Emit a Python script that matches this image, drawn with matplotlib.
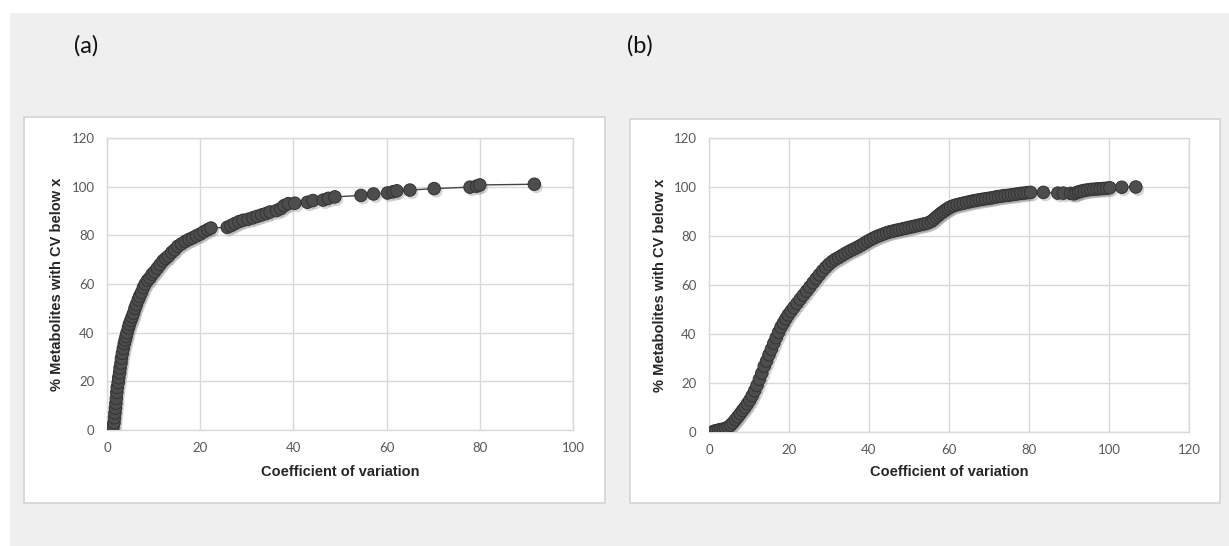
import matplotlib
matplotlib.use("Agg")
import matplotlib.pyplot as plt
import matplotlib.patheffects as pe
from matplotlib.patches import Rectangle

# panel (a): coefficient of variation vs cumulative % of metabolites
cv_a = [1.2, 1.3, 1.5, 1.6, 1.7, 1.8, 1.9, 2.0, 2.1, 2.2, 2.4, 2.5, 2.7, 2.8,
        3.0, 3.1, 3.3, 3.5, 3.7, 3.9, 4.1, 4.3, 4.6, 4.8, 5.1, 5.4, 5.7, 6.0,
        6.3, 6.7, 7.0, 7.4, 7.8, 8.2, 8.7, 9.2, 9.7, 10.2, 10.8, 11.4, 12.0,
        12.6, 13.2, 13.9, 14.5, 15.2, 16.0, 16.8, 17.6, 18.4, 19.2, 20.0, 20.8,
        21.6, 22.3, 25.8, 26.6, 27.4, 28.3, 29.2, 30.3, 31.3, 32.2, 33.2, 34.2,
        35.0, 36.4, 37.3, 38.0, 38.9, 40.3, 43.0, 44.2, 46.4, 47.5, 48.9, 54.5,
        57.2, 60.2, 61.4, 62.2, 65.0, 70.2, 77.9, 79.3, 80.0, 91.7]
pct_a = [0, 1.5, 3, 5, 7, 9, 11, 13, 15.5, 17.5, 19.5, 21.5, 23.5, 25.5,
         27.5, 29.5, 31.5, 33.5, 35.5, 37, 38.5, 40, 42, 43.5, 45, 46.5, 48, 50,
         51.5, 53.5, 55, 56.5, 58.5, 60, 61.5, 62.5, 64, 65, 66.5, 68, 69.5,
         70.5, 71.5, 73, 74, 75.5, 76.5, 77.5, 78.3, 79, 79.8, 80.5, 81.5,
         82.3, 83, 83.3, 84, 84.8, 85.6, 86.2, 86.6, 87.2, 87.8, 88.4, 89.0,
         89.6, 90.2, 91.0, 92.2, 93.0, 93.2, 93.6, 94.3, 94.5, 95.2, 95.8, 96.4,
         97.0, 97.4, 97.9, 98.3, 98.6, 99.2, 99.8, 100.2, 100.7, 101.0]

# panel (b)
cv_b = [1.2, 1.8, 2.4, 3.0, 3.6, 4.2, 4.8, 5.4, 6.0, 6.6, 7.2, 7.8, 8.4, 9.0,
        9.6, 10.2, 10.8, 11.4, 12.0, 12.6, 13.2, 13.8, 14.4, 15.0, 15.6, 16.2,
        16.8, 17.4, 18.0, 18.6, 19.2, 19.8, 20.5, 21.2, 22.0, 22.8, 23.6, 24.4,
        25.2, 26.0, 26.8, 27.6, 28.4, 29.2, 30.0, 30.8, 31.6, 32.4, 33.2, 34.0,
        34.8, 35.6, 36.4, 37.2, 38.0, 38.8, 39.6, 40.4, 41.2, 42.0, 42.8, 43.6,
        44.4, 45.2, 46.0, 46.8, 47.6, 48.4, 49.2, 50.0, 50.8, 51.6, 52.4, 53.2,
        54.0, 54.8, 55.6, 56.2, 56.8, 57.4, 58.0, 58.6, 59.2, 59.8, 60.4, 61.2,
        62.0, 62.8, 63.6, 64.4, 65.2, 66.0, 66.8, 67.6, 68.4, 69.2, 70.0, 70.8,
        71.6, 72.4, 73.2, 74.0, 74.8, 75.6, 76.4, 77.2, 78.0, 78.8, 79.6, 80.4,
        83.6, 87.2, 88.6, 90.4, 91.2, 91.8, 92.4, 93.0, 93.8, 94.6, 95.4, 96.2,
        97.0, 97.8, 98.6, 99.4, 100.2, 103.2, 106.7]
pct_b = [0.3, 0.5, 0.8, 1.0, 1.2, 1.5, 2.0, 2.8, 3.8, 5.0, 6.2, 7.5, 8.8, 10.0,
         11.5, 13.0, 14.8, 16.8, 19.0, 21.5, 24.0, 26.8, 29.0, 31.5, 33.8, 36.2,
         38.5, 40.7, 42.8, 44.5, 46.2, 47.8, 49.3, 50.8, 52.5, 54.2, 55.9, 57.5,
         59.2, 60.9, 62.6, 64.2, 65.8, 67.2, 68.5, 69.6, 70.5, 71.2, 72.0, 72.8,
         73.5, 74.2, 74.8, 75.5, 76.2, 77.0, 77.8, 78.5, 79.2, 79.8, 80.3, 80.8,
         81.3, 81.7, 82.0, 82.3, 82.6, 82.9, 83.2, 83.5, 83.8, 84.1, 84.4, 84.7,
         85.0, 85.4, 86.0, 86.8, 87.7, 88.5, 89.3, 90.0, 90.7, 91.3, 91.9, 92.4,
         92.8, 93.1, 93.4, 93.7, 94.0, 94.3, 94.5, 94.8, 95.0, 95.2, 95.4, 95.6,
         95.9, 96.1, 96.3, 96.5, 96.6, 96.8, 97.0, 97.2, 97.4, 97.5, 97.7, 97.8,
         97.8, 97.5, 97.5, 97.4, 97.2, 97.6, 98.0, 98.3, 98.6, 98.8, 99.0, 99.1,
         99.2, 99.3, 99.4, 99.5, 99.7, 99.9, 100.0]

panel_labels = ["(a)", "(b)"]
x_max = [100, 120]
y_ticks = [0, 20, 40, 60, 80, 100, 120]
xlabel = "Coefficient of variation"
ylabel = "% Metabolites with CV below x"

W, H = 1229, 546
fig = plt.figure(figsize=(W / 100, H / 100), dpi=100)
fig.patch.set_facecolor("white")

# gray backdrop and the two white chart boxes (pixel coords -> figure coords)
def px_rect(x0, y0, x1, y1, **kw):
    return Rectangle((x0 / W, 1 - y1 / H), (x1 - x0) / W, (y1 - y0) / H,
                     transform=fig.transFigure, **kw)

fig.patches.append(px_rect(10, 13, W, H, facecolor="#efefef", edgecolor="none", zorder=-10))
fig.patches.append(px_rect(24, 117, 605, 503, facecolor="white", edgecolor="#d4d4d4", lw=1.2, zorder=-9))
fig.patches.append(px_rect(630, 119, 1220, 503, facecolor="white", edgecolor="#d4d4d4", lw=1.2, zorder=-9))

axes_px = [(107, 138, 573, 430), (709, 138, 1189, 432)]
label_pos = [(86, 46), (640, 46)]
data = [(cv_a, pct_a), (cv_b, pct_b)]
ylab_x = [64, 667]   # right edge of the rotated y label

shadow = [pe.SimplePatchShadow(offset=(1.5, -2), shadow_rgbFace="#888888", alpha=0.35), pe.Normal()]

for i in range(2):
    x0, y0, x1, y1 = axes_px[i]
    ax = fig.add_axes([x0 / W, 1 - y1 / H, (x1 - x0) / W, (y1 - y0) / H])
    ax.set_facecolor("white")
    xs, ys = data[i]
    ax.plot(xs, ys, color="#444444", lw=1.0, zorder=3)
    ax.plot(xs, ys, ls="none", marker="o", ms=9, mfc="#4d4d4d", mec="#333333",
            mew=0.7, zorder=4, path_effects=shadow)
    ax.set_xlim(0, x_max[i])
    ax.set_ylim(0, 120)
    ax.set_xticks(list(range(0, x_max[i] + 1, 20)))
    ax.set_yticks(y_ticks)
    ax.grid(True, color="#d9d9d9", lw=1.0, zorder=0)
    ax.set_axisbelow(True)
    for s in ax.spines.values():
        s.set_color("#d9d9d9")
        s.set_linewidth(1.0)
    ax.tick_params(length=0, pad=9, labelsize=9.5, labelcolor="#595959")
    for t in ax.get_xticklabels() + ax.get_yticklabels():
        t.set_fontfamily("Lato")
    ax.set_xlabel(xlabel, fontsize=10.5, fontweight="bold", family="Liberation Sans", color="#262626")
    ax.set_ylabel(ylabel, fontsize=10.5, fontweight="bold", family="Liberation Sans", color="#262626")
    ax.xaxis.set_label_coords(0.5, (y1 - 465) / (y1 - y0))
    ax.yaxis.set_label_coords((ylab_x[i] - x0) / (x1 - x0), 0.5)
    lx, ly = label_pos[i]
    fig.text(lx / W, 1 - ly / H, panel_labels[i], fontsize=17, family="Lato",
             ha="center", va="center", color="#111111")

fig.savefig("out.png", dpi=100)
